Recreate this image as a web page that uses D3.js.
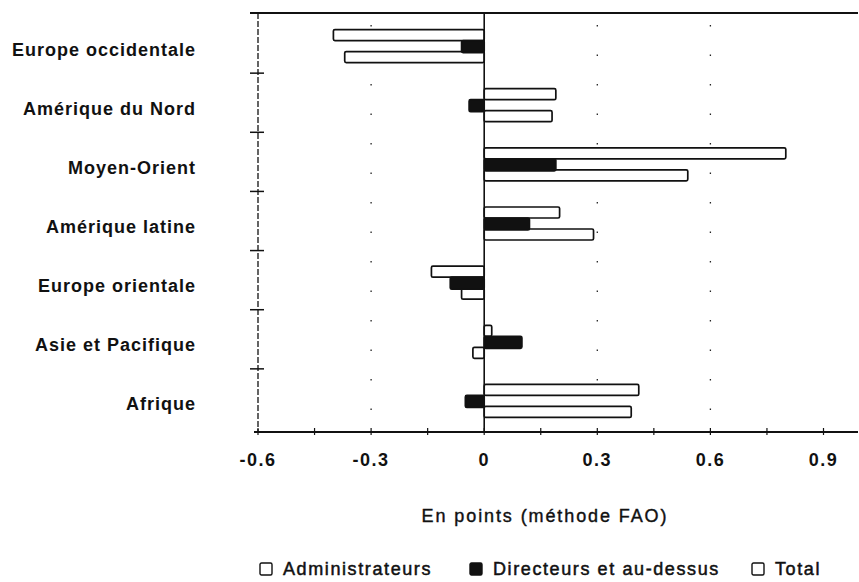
<!DOCTYPE html>
<html>
<head>
<meta charset="utf-8">
<script src="https://cdn.jsdelivr.net/npm/d3@7"></script>
<style>
  body { margin: 0; background: #fff; }
  text { font-family: "Liberation Sans", Arial, sans-serif; fill: #111; }
</style>
</head>
<body>
<div id="chart"></div>
<script>
// data
const categories = ["Europe occidentale", "Amérique du Nord", "Moyen-Orient", "Amérique latine",
    "Europe orientale", "Asie et Pacifique", "Afrique"];
const administrateurs = [-0.40, 0.19, 0.80, 0.20, -0.14, 0.02, 0.41];
const directeurs = [-0.06, -0.04, 0.19, 0.12, -0.09, 0.10, -0.05];
const total = [-0.37, 0.18, 0.54, 0.29, -0.06, -0.03, 0.39];
const tickValues = [-0.6, -0.3, 0, 0.3, 0.6, 0.9];
const minorTicks = [-0.6, -0.45, -0.3, -0.15, 0, 0.15, 0.3, 0.45, 0.6, 0.75, 0.9];
const gridValues = [-0.3, 0.3, 0.6];
const seriesNames = ["Administrateurs", "Directeurs et au-dessus", "Total"];

const width = 859, height = 582;
const plot = { left: 258, right: 858, top: 13, bottom: 432 };

const svg = d3.select("#chart").append("svg")
    .attr("width", width)
    .attr("height", height);

const x = d3.scaleLinear().domain([-0.6, 1.0]).range([plot.left, plot.left + 1.6 * 377]);
const y = d3.scaleBand().domain(categories).range([14, 428]);

// dotted grid lines
svg.selectAll(".grid")
    .data(gridValues)
    .enter()
    .append("line")
    .attr("x1", d => x(d)).attr("x2", d => x(d))
    .attr("y1", plot.top + 12).attr("y2", plot.bottom - 6)
    .style("stroke", "#222")
    .style("stroke-width", 1.3)
    .style("stroke-dasharray", "1.5,28");

// frame: top line, left axis, bottom axis
svg.append("line")
    .attr("x1", plot.left - 8).attr("x2", plot.right)
    .attr("y1", plot.top).attr("y2", plot.top)
    .style("stroke", "#111").style("stroke-width", 2);
svg.append("line")
    .attr("x1", plot.left).attr("x2", plot.left)
    .attr("y1", plot.top).attr("y2", plot.bottom)
    .style("stroke", "#111").style("stroke-width", 1.3)
    .style("stroke-dasharray", "6,2");
svg.append("line")
    .attr("x1", plot.left - 4).attr("x2", plot.right)
    .attr("y1", plot.bottom).attr("y2", plot.bottom)
    .style("stroke", "#111").style("stroke-width", 2);

// category ticks on the left axis (band boundaries)
svg.selectAll(".ytick")
    .data(categories.slice(1))
    .enter()
    .append("line")
    .attr("x1", plot.left - 8).attr("x2", plot.left + 6)
    .attr("y1", d => y(d)).attr("y2", d => y(d))
    .style("stroke", "#111").style("stroke-width", 1.5);

// x ticks
svg.selectAll(".xtick")
    .data(minorTicks)
    .enter()
    .append("line")
    .attr("x1", d => x(d)).attr("x2", d => x(d))
    .attr("y1", plot.bottom - 4).attr("y2", plot.bottom + 3)
    .style("stroke", "#111").style("stroke-width", 1.2);

svg.selectAll(".xlabel")
    .data(tickValues)
    .enter()
    .append("text")
    .attr("x", d => x(d))
    .attr("y", 466)
    .attr("text-anchor", "middle")
    .style("font-size", "18px")
    .style("font-weight", "bold")
    .style("letter-spacing", "1.5px")
    .text(d => d === 0 ? "0" : d.toFixed(1));

// category labels
svg.selectAll(".ylabel")
    .data(categories)
    .enter()
    .append("text")
    .attr("x", 196)
    .attr("y", d => y(d) + y.bandwidth() / 2 + 12)
    .attr("text-anchor", "end")
    .style("font-size", "18px")
    .style("font-weight", "bold")
    .style("letter-spacing", "1px")
    .text(d => d);

// bars
const barSpecs = [
    { values: administrateurs, off: -16, h: 11, fill: "#fff" },
    { values: total, off: 6, h: 11, fill: "#fff" },
    { values: directeurs, off: -5, h: 12, fill: "#111" }
];
barSpecs.forEach(spec => {
    svg.selectAll(null)
        .data(categories)
        .enter()
        .append("rect")
        .attr("x", (d, i) => x(Math.min(0, spec.values[i])))
        .attr("width", (d, i) => Math.abs(x(spec.values[i]) - x(0)))
        .attr("y", d => y(d) + y.bandwidth() / 2 + 2 + spec.off)
        .attr("height", spec.h)
        .attr("rx", 1.5)
        .style("fill", spec.fill)
        .style("stroke", "#111")
        .style("stroke-width", 1.7);
});

// zero line
svg.append("line")
    .attr("x1", x(0)).attr("x2", x(0))
    .attr("y1", plot.top).attr("y2", plot.bottom)
    .style("stroke", "#111").style("stroke-width", 1.6);

// axis title
svg.append("text")
    .attr("x", 545)
    .attr("y", 522)
    .attr("text-anchor", "middle")
    .style("font-size", "18px")
    .style("letter-spacing", "1.9px")
    .style("stroke", "#111")
    .style("stroke-width", 0.4)
    .text("En points (méthode FAO)");

// legend
const legendX = [260, 470, 752];
const legendFill = ["#fff", "#111", "#fff"];
const legend = svg.selectAll(".legend")
    .data(seriesNames)
    .enter()
    .append("g")
    .attr("transform", (d, i) => `translate(${legendX[i]},563)`);
legend.append("rect")
    .attr("width", 12).attr("height", 12)
    .attr("rx", 1.5)
    .style("fill", (d, i) => legendFill[i])
    .style("stroke", "#111").style("stroke-width", 1.4);
legend.append("text")
    .attr("x", 23)
    .attr("y", 12)
    .style("font-size", "18px")
    .style("letter-spacing", "1.6px")
    .style("stroke", "#111")
    .style("stroke-width", 0.5)
    .text(d => d);
</script>
</body>
</html>
